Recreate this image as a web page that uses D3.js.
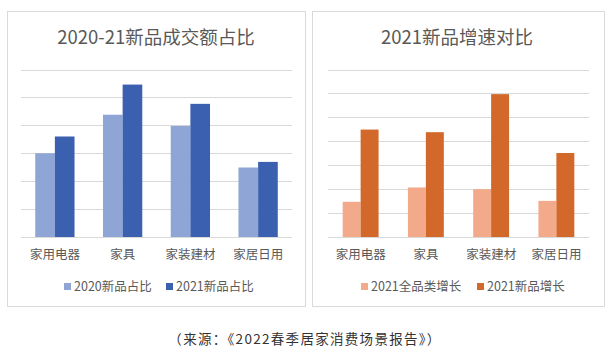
<!DOCTYPE html>
<html><head><meta charset="utf-8">
<script src="https://cdn.jsdelivr.net/npm/d3@7"></script>
<style>
body{margin:0;background:#fff;}
svg{display:block;font-family:"Noto Sans CJK SC","Noto Sans",sans-serif;}
</style></head>
<body><svg id="c" width="613" height="357"></svg>
<script>
const categories = ["家用电器","家具","家装建材","家居日用"];
const leftTitle = "2020-21新品成交额占比";
const leftSeriesNames = ["2020新品占比","2021新品占比"];
const left2020 = [3.0, 4.38, 3.98, 2.49];
const left2021 = [3.6, 5.46, 4.77, 2.69];
const leftTicks = [0,1,2,3,4,5,6];
const rightTitle = "2021新品增速对比";
const rightSeriesNames = ["2021全品类增长","2021新品增长"];
const rightAll = [1.47, 2.07, 2.0, 1.51];
const rightNew = [4.49, 4.38, 5.97, 3.51];
const rightTicks = [0,1,2,3,4,5,6,7];
const source = "（来源：《2022春季居家消费场景报告》）";

const svg = d3.select("#c");

function panel(o){
  const g = svg.append("g");
  g.append("rect").attr("x",o.bx).attr("y",o.by).attr("width",o.bw).attr("height",o.bh)
    .attr("fill","#fff").attr("stroke","#d9d9d9").attr("stroke-width",1);
  g.append("text").attr("x",o.tx).attr("y",44).attr("text-anchor","middle")
    .attr("font-size",18.5).attr("fill","#595959").text(o.title);
  const y = d3.scaleLinear().domain([0,o.ticks[o.ticks.length-1]]).range([237,69.5]);
  const x = d3.scaleBand().domain(categories).range([o.x0,o.x1]).paddingInner(o.pad).paddingOuter(o.pad/2);
  const xs = d3.scaleBand().domain([0,1]).range([0,x.bandwidth()]);
  g.append("g").selectAll("line").data(o.ticks).join("line")
    .attr("x1",o.x0).attr("x2",o.x1).attr("y1",d=>Math.round(y(d))+0.5).attr("y2",d=>Math.round(y(d))+0.5)
    .attr("stroke","#d9d9d9").attr("stroke-width",1);
  const series=[o.s1,o.s2];
  series.forEach((s,i)=>{
    g.append("g").selectAll("rect").data(s).join("rect")
      .attr("x",(d,j)=>x(categories[j])+xs(i)).attr("width",xs.bandwidth())
      .attr("y",d=>y(d)).attr("height",d=>y(0)-y(d)).attr("fill",o.colors[i]);
  });
  const ax = g.append("g").attr("transform","translate(0,237)").call(d3.axisBottom(x).tickSize(0).tickPadding(13));
  ax.select(".domain").remove();
  ax.selectAll("text").attr("font-size",12.5).attr("fill","#595959").attr("font-family","\"Noto Sans CJK SC\",sans-serif");
  o.legend.forEach((L,i)=>{
    g.append("rect").attr("x",L.x).attr("y",283).attr("width",7).attr("height",7).attr("fill",o.colors[i]);
    g.append("text").attr("x",L.x+10).attr("y",291).attr("font-size",12.5).attr("fill","#595959").text(o.names[i]);
  });
}

panel({bx:7.5,by:11.5,bw:298,bh:295,tx:156,title:leftTitle,ticks:leftTicks,x0:21,x1:292,pad:0.42,
  s1:left2020,s2:left2021,colors:["#8fa5d6","#3c60b0"],names:leftSeriesNames,
  legend:[{x:64},{x:166}]});
panel({bx:312.5,by:11.5,bw:292,bh:295,tx:457,title:rightTitle,ticks:rightTicks,x0:328,x1:589,pad:0.45,
  s1:rightAll,s2:rightNew,colors:["#f2aa8a","#d2692a"],names:rightSeriesNames,
  legend:[{x:361},{x:477}]});

svg.append("text").attr("x",305).attr("y",344).attr("text-anchor","middle")
  .attr("font-size",13.5).attr("letter-spacing",1.3).attr("fill","#333").text(source);
</script></body></html>
